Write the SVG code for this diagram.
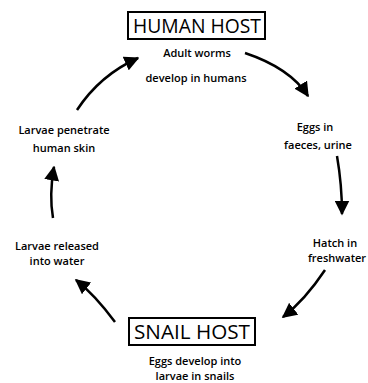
<svg xmlns="http://www.w3.org/2000/svg" width="368" height="383" viewBox="0 0 368 383">
<style>
.t{font-family:"Open Sans","Noto Sans",sans-serif;font-size:11px;font-weight:600;fill:#000;text-anchor:middle}
.h{font-family:"Open Sans","Noto Sans",sans-serif;font-size:20px;fill:#000;text-anchor:middle}
.box{fill:#fff;stroke:#000;stroke-width:2}
.c{fill:none;stroke:#000;stroke-width:2.5;marker-end:url(#ah)}
</style>
<defs>
<marker id="ah" viewBox="0 0 10 10" refX="9" refY="5" markerWidth="6" markerHeight="6" markerUnits="strokeWidth" orient="auto">
<path d="M0,0 L10,5 L0,10 Z" fill="#000"/>
</marker>
</defs>
<rect width="368" height="383" fill="#fff"/>
<g id="connectors">
<path class="c" d="M77,110 Q100,75 138,58"/>
<path class="c" d="M245,53 Q290,68 308,96"/>
<path class="c" d="M337,156 Q342,185 342,214"/>
<path class="c" d="M325,270 Q305,300 283,317"/>
<path class="c" d="M115,322 Q95,295 76,280"/>
<path class="c" d="M53,218 Q49,195 54,167"/>
</g>
<g id="human-host">
<rect class="box" x="128" y="12" width="137" height="27"/>
<text class="h" x="197" y="33" textLength="128" lengthAdjust="spacingAndGlyphs">HUMAN HOST</text>
<text class="t" x="197" y="57">Adult worms</text>
<text class="t" x="196" y="82">develop in humans</text>
</g>
<g id="eggs-faeces">
<text class="t" x="315" y="131">Eggs in</text>
<text class="t" x="318" y="149">faeces, urine</text>
</g>
<g id="hatch">
<text class="t" x="335" y="247">Hatch in</text>
<text class="t" x="337" y="262">freshwater</text>
</g>
<g id="snail-host">
<rect class="box" x="129" y="318" width="126" height="27"/>
<text class="h" x="192" y="339" textLength="116" lengthAdjust="spacingAndGlyphs">SNAIL HOST</text>
<text class="t" x="195" y="365">Eggs develop into</text>
<text class="t" x="195" y="380">larvae in snails</text>
</g>
<g id="larvae-released">
<text class="t" x="57" y="250">Larvae released</text>
<text class="t" x="57" y="265">into water</text>
</g>
<g id="larvae-penetrate">
<text class="t" x="64" y="134">Larvae penetrate</text>
<text class="t" x="64" y="152">human skin</text>
</g>
</svg>
